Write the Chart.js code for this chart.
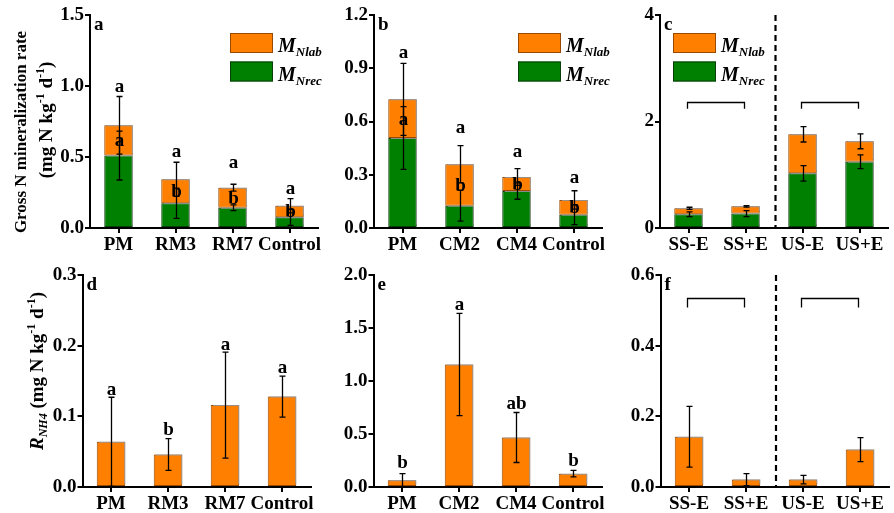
<!DOCTYPE html>
<html><head><meta charset="utf-8">
<script src="https://cdn.jsdelivr.net/npm/chart.js@4"></script>
<style>
body{margin:0;background:#fff;width:894px;height:513px;position:relative;overflow:hidden}
canvas{position:absolute}
</style></head><body>
<canvas id="ca"></canvas><canvas id="cb"></canvas><canvas id="cc"></canvas>
<canvas id="cd"></canvas><canvas id="ce"></canvas><canvas id="cf"></canvas>
<script>
// ---------- data ----------
const catsA = ['PM','RM3','RM7','Control'];
const catsB = ['PM','CM2','CM4','Control'];
const catsC = ['SS-E','SS+E','US-E','US+E'];

const ticksA = [0, 0.5, 1.0, 1.5];
const ticksB = [0, 0.3, 0.6, 0.9, 1.2];
const ticksC = [0, 2, 4];
const ticksD = [0, 0.1, 0.2, 0.3];
const ticksE = [0, 0.5, 1.0, 1.5, 2.0];
const ticksF = [0, 0.2, 0.4, 0.6];

// panel a (stacked: M_Nrec + M_Nlab)
const aRec    = [0.510, 0.174, 0.143, 0.075];
const aLab    = [0.213, 0.169, 0.141, 0.082];
const aRecErr = [0.172, 0.106, 0.020, 0.056];
const aTotErr = [0.203, 0.120, 0.024, 0.050];
const aTopLetters  = ['a','a','a','a'];
const aTopLetterAt = [0.993, 0.535, 0.458, 0.275];
const aInLetters   = ['a','b','b','b'];

// panel b
const bRec    = [0.507, 0.126, 0.208, 0.075];
const bLab    = [0.218, 0.233, 0.079, 0.083];
const bRecErr = [0.177, 0.087, 0.046, 0.056];
const bTotErr = [0.203, 0.105, 0.047, 0.052];
const bTopLetters  = ['a','a','a','a'];
const bTopLetterAt = [0.986, 0.563, 0.428, 0.282];
const bInLetters   = ['a','b','b','b'];

// panel c
const cRec    = [0.257, 0.270, 1.027, 1.245];
const cLab    = [0.113, 0.137, 0.733, 0.383];
const cRecErr = [0.045, 0.055, 0.145, 0.130];
const cTotErr = [0.020, 0.015, 0.145, 0.140];
const cBracketAt = [2.36, 2.24];

// panel d (R_NH4)
const dVal = [0.064, 0.046, 0.116, 0.128];
const dErr = [0.063, 0.0225, 0.075, 0.029];
const dLetters  = ['a','b','a','a'];
const dLetterAt = [0.137, 0.080, 0.201, 0.168];

// panel e
const eVal = [0.063, 1.156, 0.467, 0.126];
const eErr = [0.063, 0.482, 0.236, 0.030];
const eLetters  = ['b','a','ab','b'];
const eLetterAt = [0.221, 1.717, 0.781, 0.246];

// panel f
const fVal = [0.142, 0.021, 0.021, 0.106];
const fErr = [0.086, 0.017, 0.012, 0.034];
const fBracketAt = [0.534, 0.508];

// ---------- styles ----------
const F = '"Liberation Serif","Times New Roman",serif';
const fnt = (size, style) => `${style || 'bold'} ${size}px ${F}`;
const ORANGE = '#FF8000', ORANGE_B = '#9A4A00';
const GREEN = '#008000', GREEN_B = '#0B3D0B';

function richWidth(ctx, segs){ let w=0; segs.forEach(s=>{ctx.font=s.font; w+=ctx.measureText(s.t).width;}); return w; }
function drawRich(ctx, segs, x, y){ segs.forEach(s=>{ctx.font=s.font; ctx.fillText(s.t, x, y+(s.dy||0)); x+=ctx.measureText(s.t).width;}); }

const unitSegs = (size, sup) => [
  {t:'(mg N kg', font:fnt(size)}, {t:'-1', font:fnt(sup), dy:-size*0.42},
  {t:' d', font:fnt(size)}, {t:'-1', font:fnt(sup), dy:-size*0.42},
  {t:')', font:fnt(size)}
];

const shadow = {
  id:'shadow',
  beforeDatasetsDraw(c){ const g=c.ctx; g.save(); g.shadowColor='rgba(150,150,150,0.9)'; g.shadowOffsetX=1.5; g.shadowOffsetY=-1.5; g.shadowBlur=0; },
  afterDatasetsDraw(c){ c.ctx.restore(); }
};

function makeDecor(p){
  return {
    id:'decor',
    afterDatasetsDraw(chart){
      const ctx=chart.ctx, xs=chart.scales.x, ys=chart.scales.y, ca=chart.chartArea;
      ctx.save();
      ctx.fillStyle='#000'; ctx.strokeStyle='#000';
      const px = i => Math.round(xs.getPixelForValue(i)) + 0.5;
      function errBar(i, v, e){
        const x=px(i), t=ys.getPixelForValue(v+e), b=ys.getPixelForValue(Math.max(v-e,0));
        ctx.lineWidth=1.3; ctx.beginPath();
        ctx.moveTo(x,t); ctx.lineTo(x,b);
        ctx.moveTo(x-3,t); ctx.lineTo(x+3,t);
        ctx.moveTo(x-3,b); ctx.lineTo(x+3,b);
        ctx.stroke();
      }
      if (p.stack){
        const [rec, lab] = p.stack;
        rec.forEach((r,i)=>{ errBar(i, r+lab[i], p.totErr[i]); errBar(i, r, p.recErr[i]); });
        ctx.textAlign='center'; ctx.textBaseline='middle'; ctx.font=fnt(19);
        if (p.inLetters) p.inLetters.forEach((L,i)=>{
          ctx.fillText(L, px(i), ys.getPixelForValue(rec[i]+lab[i]/2)+1);
        });
      } else {
        p.vals.forEach((v,i)=>errBar(i, v, p.err[i]));
      }
      if (p.topLetters){
        ctx.textAlign='center'; ctx.textBaseline='middle'; ctx.font=fnt(19);
        p.topLetters.forEach((L,i)=>ctx.fillText(L, px(i), ys.getPixelForValue(p.topLetterAt[i])));
      }
      // brackets
      if (p.bracketAt){
        const yt=Math.round(ys.getPixelForValue(p.bracketAt[0]))+0.5, yb=ys.getPixelForValue(p.bracketAt[1]);
        ctx.lineWidth=1.3;
        [[0,1],[2,3]].forEach(([i,j])=>{
          ctx.beginPath(); ctx.moveTo(px(i)-2,yb); ctx.lineTo(px(i)-2,yt); ctx.lineTo(px(j)-2,yt); ctx.lineTo(px(j)-2,yb); ctx.stroke();
        });
      }
      // dashed divider
      if (p.divider){
        const x=(xs.getPixelForValue(1)+xs.getPixelForValue(2))/2+1.5;
        ctx.lineWidth=2.2; ctx.setLineDash([6,4]);
        ctx.beginPath(); ctx.moveTo(x,ca.top); ctx.lineTo(x,ca.bottom); ctx.stroke();
        ctx.setLineDash([]);
      }
      // panel label
      ctx.textAlign='left'; ctx.textBaseline='alphabetic'; ctx.font=fnt(19);
      ctx.fillText(p.label, ca.left+4, ca.top+15);
      // legend
      if (p.legendDx!==undefined){
        const bx=ca.left+p.legendDx, by=ca.top+18;
        [[ORANGE,ORANGE_B,'Nlab'],[GREEN,GREEN_B,'Nrec']].forEach(([c,b,sub],k)=>{
          const y=by+k*28.5;
          ctx.fillStyle=c; ctx.fillRect(bx,y,43,20);
          ctx.strokeStyle=b; ctx.lineWidth=1; ctx.strokeRect(bx+0.5,y+0.5,42,19);
          ctx.fillStyle='#000';
          drawRich(ctx, [{t:'M',font:fnt(20,'italic bold')},{t:sub,font:fnt(13,'italic bold'),dy:4}], bx+48, y+19);
        });
      }
      // y titles
      if (p.titles){
        p.titles.forEach(tl=>{
          ctx.save();
          ctx.textAlign='left'; ctx.textBaseline='alphabetic'; ctx.fillStyle='#000';
          const w=richWidth(ctx, tl.segs);
          ctx.translate(tl.x - p.left, tl.cy - p.top); ctx.rotate(-Math.PI/2);
          drawRich(ctx, tl.segs, -w/2, 0);
          ctx.restore();
        });
      }
      ctx.restore();
    }
  };
}

function makeChart(p){
  const cv=document.getElementById(p.id);
  cv.width=p.w; cv.height=p.h;
  cv.style.left=p.left+'px'; cv.style.top=p.top+'px';
  const ds = p.stack ? [
    {data:p.stack[0], backgroundColor:GREEN, borderColor:GREEN_B},
    {data:p.stack[1], backgroundColor:ORANGE, borderColor:ORANGE_B}
  ] : [{data:p.vals, backgroundColor:ORANGE, borderColor:ORANGE_B}];
  const tickFont={family:F, weight:'bold', size:19};
  new Chart(cv, {
    type:'bar',
    data:{labels:p.cats, datasets:ds},
    options:{
      responsive:false, animation:false, devicePixelRatio:1,
      layout:{padding:{left:0, top:15, right:p.padR, bottom:0}},
      plugins:{legend:{display:false}, tooltip:{enabled:false}},
      datasets:{bar:{barPercentage:0.5, categoryPercentage:1, borderWidth:1, borderSkipped:false}},
      scales:{
        x:{stacked:true, offset:true,
          afterFit:s=>{s.height=p.xH;},
          border:{display:true, color:'#000', width:2},
          grid:{offset:false, drawOnChartArea:false, drawTicks:true, tickLength:5, color:'#000', lineWidth:2},
          ticks:{font:tickFont, color:'#000', padding:1, maxRotation:0, autoSkip:false}},
        y:{stacked:true, min:0, max:p.ticks[p.ticks.length-1],
          afterFit:s=>{s.width=p.yW;},
          afterBuildTicks:s=>{s.ticks=p.ticks.map(v=>({value:v}));},
          border:{display:true, color:'#000', width:2},
          grid:{drawOnChartArea:false, drawTicks:true, tickLength:5, color:'#000', lineWidth:2},
          ticks:{font:tickFont, color:'#000', padding:1, callback:v=>Number(v).toFixed(p.dec)}}
      }
    },
    plugins:[shadow, makeDecor(p)]
  });
}

const titleTop = [
  {x:26, cy:132, segs:[{t:'Gross N mineralization rate', font:fnt(17)}]},
  {x:52, cy:120, segs:unitSegs(19, 12)}
];
const titleBot = [
  {x:43, cy:371, segs:[{t:'R', font:fnt(19,'italic bold')},{t:'NH4', font:fnt(12,'italic bold'), dy:4}, {t:' ', font:fnt(19)}].concat(unitSegs(19, 12))}
];

const panels = [
  {id:'ca', left:0,   top:0,   w:350, h:260, yW:90,   xH:32, padR:32,  cats:catsA, ticks:ticksA, dec:1,
   stack:[aRec,aLab], recErr:aRecErr, totErr:aTotErr, topLetters:aTopLetters, topLetterAt:aTopLetterAt, inLetters:aInLetters,
   label:'a', legendDx:140, titles:titleTop},
  {id:'cb', left:290, top:0,   w:340, h:260, yW:84,   xH:32, padR:28,  cats:catsB, ticks:ticksB, dec:1,
   stack:[bRec,bLab], recErr:bRecErr, totErr:bTotErr, topLetters:bTopLetters, topLetterAt:bTopLetterAt, inLetters:bInLetters,
   label:'b', legendDx:144},
  {id:'cc', left:580, top:0,   w:314, h:260, yW:80,   xH:32, padR:6,   cats:catsC, ticks:ticksC, dec:0,
   stack:[cRec,cLab], recErr:cRecErr, totErr:cTotErr, bracketAt:cBracketAt, divider:true,
   label:'c', legendDx:13},
  {id:'cd', left:0,   top:260, w:350, h:253, yW:82.5, xH:26, padR:39.5, cats:catsA, ticks:ticksD, dec:1,
   vals:dVal, err:dErr, topLetters:dLetters, topLetterAt:dLetterAt, label:'d', titles:titleBot},
  {id:'ce', left:290, top:260, w:340, h:253, yW:83.5, xH:26, padR:28.5, cats:catsB, ticks:ticksE, dec:1,
   vals:eVal, err:eErr, topLetters:eLetters, topLetterAt:eLetterAt, label:'e'},
  {id:'cf', left:580, top:260, w:314, h:253, yW:80.5, xH:26, padR:5.5, cats:catsC, ticks:ticksF, dec:1,
   vals:fVal, err:fErr, bracketAt:fBracketAt, divider:true, label:'f'}
];
panels.forEach(makeChart);
</script>
</body></html>
